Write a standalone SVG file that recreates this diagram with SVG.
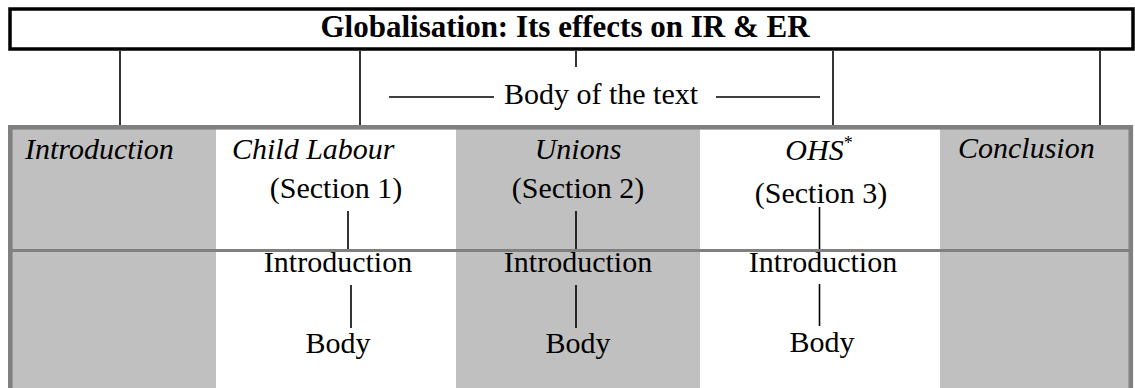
<svg xmlns="http://www.w3.org/2000/svg" width="1135" height="388" viewBox="0 0 1135 388">
  <style>
    .t { font-family: "Liberation Serif", "Times New Roman", serif; font-size: 30px; fill: #000; }
    .it { font-style: italic; }
    .mid { text-anchor: middle; }
    .title { font-weight: bold; font-size: 31px; }
    .ln { stroke: #000; stroke-width: 1.6; fill: none; }
    .grey { fill: #c0c0c0; }
    .white { fill: #fff; }
  </style>
  <rect x="0" y="0" width="1135" height="388" fill="#fff"/>

  <g id="title">
    <rect x="10" y="9" width="1123" height="40" fill="#fff" stroke="#000" stroke-width="3.5"/>
    <text class="t title mid" x="565" y="37">Globalisation: Its effects on IR &amp; ER</text>
  </g>

  <g id="body-of-text">
    <text class="t mid" x="601" y="104">Body of the text</text>
  </g>

  <g id="table">
    <rect class="grey" x="12" y="129" width="204" height="262"/>
    <rect class="white" x="216" y="129" width="240" height="262"/>
    <rect class="grey" x="456" y="129" width="244" height="262"/>
    <rect class="white" x="700" y="129" width="240" height="262"/>
    <rect class="grey" x="940" y="129" width="189" height="262"/>
    <rect x="10.3" y="127.3" width="1120.5" height="280" fill="none" stroke="#808080" stroke-width="4.6"/>
    <line x1="12" y1="250.5" x2="1129" y2="250.5" stroke="#808080" stroke-width="3"/>
  </g>

  <g id="introduction">
    <text class="t it" x="25" y="159">Introduction</text>
  </g>
  <g id="child-labour">
    <text class="t it" x="232" y="159">Child Labour</text>
    <text class="t mid" x="336" y="198">(Section 1)</text>
    <text class="t mid" x="338" y="272">Introduction</text>
    <text class="t mid" x="338" y="353">Body</text>
  </g>
  <g id="unions">
    <text class="t it mid" x="578" y="159">Unions</text>
    <text class="t mid" x="578" y="198">(Section 2)</text>
    <text class="t mid" x="578" y="272">Introduction</text>
    <text class="t mid" x="578" y="353">Body</text>
  </g>
  <g id="ohs">
    <text class="t it mid" x="819" y="160">OHS<tspan font-style="normal" font-size="18" dy="-11">*</tspan></text>
    <text class="t mid" x="821" y="203">(Section 3)</text>
    <text class="t mid" x="823" y="272">Introduction</text>
    <text class="t mid" x="822" y="352">Body</text>
  </g>
  <g id="conclusion">
    <text class="t it" x="958" y="158">Conclusion</text>
  </g>

  <g id="connectors">
    <line class="ln" x1="120" y1="51" x2="120" y2="125"/>
    <line class="ln" x1="360" y1="51" x2="360" y2="125"/>
    <line class="ln" x1="833" y1="51" x2="833" y2="125"/>
    <line class="ln" x1="1100" y1="51" x2="1100" y2="125"/>
    <line class="ln" x1="576" y1="51" x2="576" y2="67"/>
    <line class="ln" x1="389" y1="97" x2="494" y2="97"/>
    <line class="ln" x1="716" y1="97" x2="820" y2="97"/>
    <line class="ln" x1="348" y1="211" x2="348" y2="249"/>
    <line class="ln" x1="576" y1="211" x2="576" y2="249"/>
    <line class="ln" x1="819.5" y1="207" x2="819.5" y2="249"/>
    <line class="ln" x1="351" y1="285" x2="351" y2="328"/>
    <line class="ln" x1="576" y1="285" x2="576" y2="328"/>
    <line class="ln" x1="819.5" y1="284" x2="819.5" y2="326"/>
  </g>
</svg>
